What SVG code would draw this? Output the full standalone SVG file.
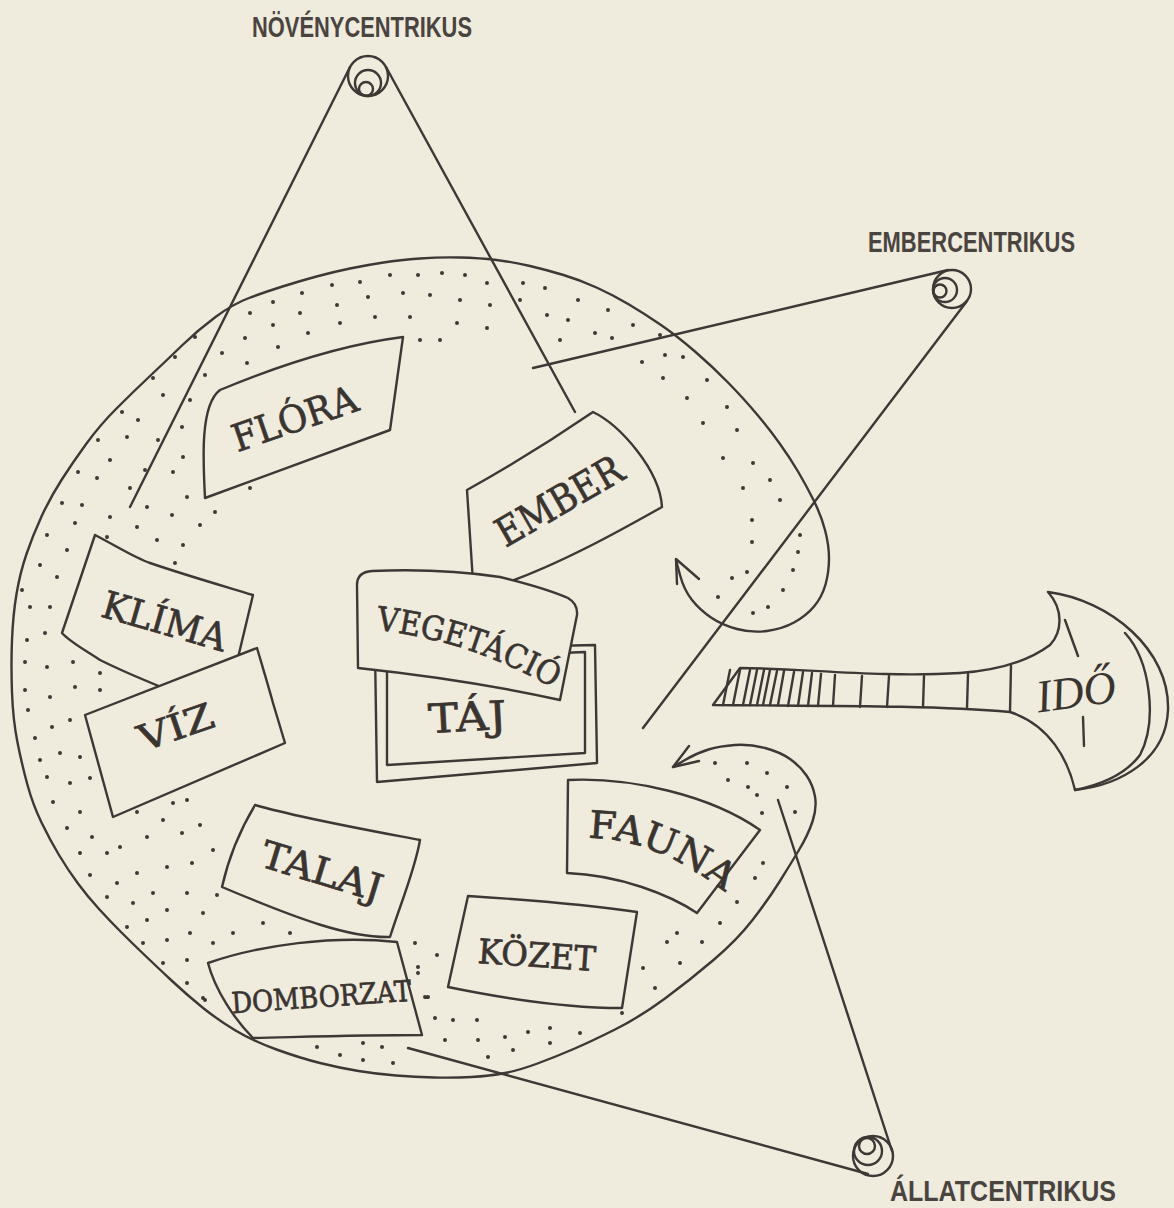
<svg xmlns="http://www.w3.org/2000/svg" width="1174" height="1208" viewBox="0 0 1174 1208">
<style>
.o{fill:none;stroke:#3d3835;stroke-width:2.4;stroke-linecap:round;stroke-linejoin:round}
.b{fill:#efebdd;stroke:#3d3835;stroke-width:2.4;stroke-linejoin:round}
.t{font-family:"DejaVu Serif","Liberation Serif",serif;fill:#3a3431;stroke:#3a3431;stroke-width:0.7;text-anchor:middle}
.h{font-family:"Liberation Sans",Arial,sans-serif;fill:#4a4440;font-size:29px;font-weight:bold}
.d{fill:none;stroke:#3d3835;stroke-width:4;stroke-linecap:round}
</style>
<rect width="1174" height="1208" fill="#efebdd"/>

<g id="region">
<path class="o" d="M676,560 L680,575 Q684,590 692,600 Q700,610 711,617.5 Q722,625 737,629 Q752,633 767,631 Q782,629 794,622.5 Q806,616 814,606.5 Q822,597 825.5,584.5 Q829,572 829,558.5 Q829,545 825,530 Q821,515 813.5,500 Q806,485 798,471.5 Q790,458 780,444 Q770,430 757.5,415 Q745,400 729,383.5 Q713,367 695,351.5 Q677,336 661,325 Q645,314 629,304.5 Q613,295 596.5,287.5 Q580,280 563.5,275 Q547,270 530,266 Q513,262 496.5,260 Q480,258 460,257.5 Q440,257 420,258.5 Q400,260 383.5,262.5 Q367,265 350,268.5 Q333,272 316.5,276.5 Q300,281 282.5,286.5 Q265,292 249,298 Q233,304 215.5,317 Q198,330 182.5,345 Q167,360 150,376 Q133,392 116.5,408.5 Q100,425 86.5,443.5 Q73,462 61.5,480 Q50,498 41.5,516.5 Q33,535 26.5,554 Q20,573 16.5,594 Q13,615 12,640 Q11,665 12,692.5 Q13,720 17.5,742.5 Q22,765 27.5,785 Q33,805 41.5,822.5 Q50,840 59,855 Q68,870 78,883.5 Q88,897 99,909 Q110,921 121,932 Q132,943 143.5,954 Q155,965 171,980 Q187,995 202.5,1007.5 Q218,1020 235.5,1030.5 Q253,1041 276.5,1049.5 Q300,1058 320,1063 Q340,1068 358.5,1071 Q377,1074 396,1075.5 Q415,1077 434,1077.5 Q453,1078 471.5,1077 Q490,1076 505,1073 Q520,1070 537.5,1063.5 Q555,1057 572.5,1049.5 Q590,1042 615,1029.5 Q640,1017 665,998.5 Q690,980 713.5,960 Q737,940 752.5,920 Q768,900 779,882.5 Q790,865 799,850 Q808,835 812.5,821.5 Q817,808 815,796.5 Q813,785 806.5,775.5 Q800,766 790,759 Q780,752 765,748 Q750,744 735,745 Q720,746 708.5,749.5 Q697,753 685,760 L673,767"/>
<path class="o" d="M677,584 L676,559 L699,579"/>
<path class="o" d="M689,746 L673,767 L699,761"/>
<path class="d" d="M390,275h0M418,275h0M442,273h0M465,275h0M487,283h0M523,283h0M545,288h0M578,300h0M608,310h0M633,325h0M332,285h0M360,282h0M302,293h0M273,302h0M250,313h0M368,297h0M403,293h0M430,295h0M460,300h0M490,305h0M300,313h0M337,305h0M375,317h0M410,317h0M457,323h0M487,328h0M547,315h0M568,320h0M595,333h0M273,325h0M308,333h0M340,323h0M420,340h0M440,340h0M245,338h0M278,347h0M222,353h0M247,363h0M560,340h0M642,362h0M665,355h0M683,357h0M663,378h0M707,380h0M687,398h0M727,407h0M703,423h0M737,430h0M723,458h0M753,463h0M743,488h0M770,480h0M780,500h0M752,520h0M752,542h0M800,535h0M798,552h0M793,570h0M747,572h0M732,578h0M783,590h0M718,597h0M768,607h0M753,613h0M520,300h0M612,338h0M660,335h0
M195,337h0M175,357h0M153,378h0M163,395h0M138,420h0M122,412h0M127,437h0M98,440h0M110,460h0M78,472h0M97,478h0M62,503h0M82,505h0M75,523h0M47,535h0M67,550h0M40,565h0M57,577h0M30,607h0M50,607h0M182,427h0M183,457h0M173,472h0M187,497h0M172,515h0M157,540h0M183,545h0M175,563h0M200,525h0M215,512h0M250,488h0M147,507h0M137,527h0M110,517h0M107,537h0M145,470h0M130,488h0M158,440h0M205,375h0M190,400h0M125,560h0M90,580h0M78,600h0M22,590h0
M27,640h0M45,633h0M25,662h0M47,667h0M73,662h0M100,673h0M25,690h0M50,697h0M75,687h0M100,690h0M28,710h0M52,727h0M70,720h0M35,738h0M60,753h0M80,757h0M40,760h0M47,777h0M70,783h0M90,778h0M53,802h0M80,812h0M67,828h0M92,837h0M80,853h0M107,853h0M120,847h0M147,837h0M182,833h0M200,825h0M173,803h0M157,797h0M187,800h0M137,812h0M163,820h0M90,875h0M117,883h0M137,873h0M167,867h0M192,863h0M213,850h0M107,897h0M133,903h0M153,893h0M187,893h0M217,895h0M127,927h0M147,920h0M167,910h0M203,913h0M233,933h0M263,923h0M290,933h0M143,943h0M167,940h0M190,933h0M213,943h0M163,963h0M187,960h0M203,998h0M187,983h0M205,1000h0
M428,997h0M435,1018h0M453,1020h0M477,1020h0M445,1040h0M478,1040h0M505,1037h0M528,1032h0M550,1028h0M550,1043h0M513,1050h0M488,1057h0M580,1033h0M317,1047h0M340,1055h0M363,1060h0M363,1043h0M382,1047h0M393,1063h0M622,1013h0M418,973h0M415,943h0M437,955h0M418,967h0M425,997h0
M643,968h0M655,988h0M680,963h0M667,942h0M677,933h0M702,942h0M720,923h0M737,902h0M755,878h0M763,863h0M715,763h0M747,763h0M767,773h0M728,780h0M748,787h0M757,795h0M787,787h0M762,813h0M795,812h0"/>
</g>

<g id="connectors">
<path class="o" d="M350,67 L130,507"/>
<path class="o" d="M386,67 L575,412"/>
<path class="o" d="M948,270 L533,368"/>
<path class="o" d="M967,301 L643,728"/>
<path class="o" d="M892,1151 L778,800"/>
<path class="o" d="M868,1174 L408,1048"/>
</g>

<g id="node-novenycentrikus">
<circle class="o" cx="368" cy="76" r="20"/>
<circle class="o" cx="368" cy="83" r="13"/>
<circle class="o" cx="366" cy="89" r="7"/>
<text class="h" x="252" y="37" textLength="220" lengthAdjust="spacingAndGlyphs">NÖVÉNYCENTRIKUS</text>
</g>
<g id="node-embercentrikus">
<circle class="o" cx="952" cy="289" r="19"/>
<circle class="o" cx="945" cy="290" r="12"/>
<circle class="o" cx="940" cy="291" r="6.5"/>
<text class="h" x="868" y="252" textLength="207" lengthAdjust="spacingAndGlyphs">EMBERCENTRIKUS</text>
</g>
<g id="node-allatcentrikus">
<circle class="o" cx="873" cy="1156" r="20"/>
<circle class="o" cx="868" cy="1151" r="14"/>
<circle class="o" cx="867" cy="1146" r="8"/>
<text class="h" x="890" y="1201" textLength="226" lengthAdjust="spacingAndGlyphs">ÁLLATCENTRIKUS</text>
</g>

<g id="node-flora">
<path class="b" d="M205,498 C203,460 200,405 220,390 C280,365 340,345 403,337 L390,430 Z"/>
<text class="t" x="299" y="431" font-size="38" textLength="130" lengthAdjust="spacingAndGlyphs" transform="rotate(-19 299 431)">FLÓRA</text>
</g>
<g id="node-ember">
<path class="b" d="M467,490 Q530,455 593,412 C620,425 660,470 662,507 C630,525 560,565 500,585 L473,582 Z"/>
<text class="t" x="566" y="513" font-size="40" textLength="140" lengthAdjust="spacingAndGlyphs" transform="rotate(-30 566 513)">EMBER</text>
</g>
<g id="node-klima">
<path class="b" d="M95,535 C120,548 135,558 150,563 C185,575 220,585 253,595 L225,712 C180,695 130,675 100,660 C85,650 70,642 62,633 Z"/>
<text class="t" x="161" y="634" font-size="38" textLength="128" lengthAdjust="spacingAndGlyphs" transform="rotate(16 161 634)">KLÍMA</text>
</g>
<g id="node-viz">
<path class="b" d="M85,715 L257,648 C262,665 268,685 273,703 L285,743 L113,817 Z"/>
<text class="t" x="180" y="739" font-size="36" textLength="78" lengthAdjust="spacingAndGlyphs" transform="rotate(-19 180 739)">VÍZ</text>
</g>
<g id="node-taj">
<path class="b" d="M375,650 L595,645 L597,763 L377,782 Z"/>
<path class="o" d="M387,660 L585,652 L585,753 L387,765 Z"/>
<text class="t" x="468" y="731" font-size="40" textLength="78" lengthAdjust="spacingAndGlyphs" transform="rotate(-3 468 731)">TÁJ</text>
</g>
<g id="node-vegetacio">
<path class="b" d="M372,571 Q440,568 500,577 Q545,588 568,598 Q578,604 577,615 L560,700 Q470,680 358,668 L357,585 Q357,572 372,571 Z"/>
<path id="pv" d="M376,630 Q470,640 556,690" fill="none"/>
<text class="t" font-size="33" style="text-anchor:start"><textPath href="#pv" textLength="188" lengthAdjust="spacingAndGlyphs">VEGETÁCIÓ</textPath></text>
</g>
<g id="node-talaj">
<path class="b" d="M255,805 C300,818 367,830 420,840 C415,870 400,905 390,937 C350,938 300,920 222,887 C228,860 240,830 255,805 Z"/>
<text class="t" x="318" y="884" font-size="38" textLength="125" lengthAdjust="spacingAndGlyphs" transform="rotate(17 318 884)">TALAJ</text>
</g>
<g id="node-domborzat">
<path class="b" d="M208,963 C260,945 333,935 397,942 L422,1035 C360,1035 300,1037 253,1038 C235,1020 215,990 208,963 Z"/>
<text class="t" x="322" y="1007" font-size="29" textLength="180" lengthAdjust="spacingAndGlyphs" transform="rotate(-4 322 1007)">DOMBORZAT</text>
</g>
<g id="node-kozet">
<path class="b" d="M468,896 C530,900 590,905 637,912 L622,1008 Q550,1008 448,987 Z"/>
<text class="t" x="536" y="967" font-size="34" textLength="118" lengthAdjust="spacingAndGlyphs" transform="rotate(4 536 967)">KÖZET</text>
</g>
<g id="node-fauna">
<path class="b" d="M568,780 C630,777 710,795 760,830 L697,913 C670,895 620,875 567,873 Z"/>
<path id="pf" d="M588,838 Q655,838 726,893" fill="none"/>
<text class="t" font-size="38" style="text-anchor:start"><textPath href="#pf" textLength="150" lengthAdjust="spacingAndGlyphs">FAUNA</textPath></text>
</g>

<g id="node-ido">
<path class="o" d="M713,705 L740,668 C800,668 880,678 960,673 C1000,670 1030,660 1050,645 C1062,632 1064,610 1048,592 C1110,600 1170,650 1168,710 C1166,760 1120,785 1075,790 C1068,760 1050,725 1010,712 C930,705 820,706 713,705 Z"/>
<path class="o" d="M1125,633 C1150,660 1158,720 1140,755 C1125,775 1100,785 1075,790"/>
<path class="o" d="M723,705L730,670M733,705L740,670M743,705L750,670M750,705L757,670M757,705L764,670M763,705L770,670M770,705L777,671M778,705L784,671M788,706L794,672M798,706L803,672M808,706L812,673M818,706L821,674M833,706L835,675M860,707L862,676M887,707L889,676M923,707L924,676M967,708L968,674M1010,711L1011,666M1065,620L1078,656M1083,717L1084,746"/>
<text x="1078" y="707" font-family="Liberation Serif,serif" font-style="italic" font-size="46" fill="#3a3431" text-anchor="middle" textLength="80" lengthAdjust="spacingAndGlyphs" transform="rotate(-8 1078 707)">IDŐ</text>
</g>
</svg>
